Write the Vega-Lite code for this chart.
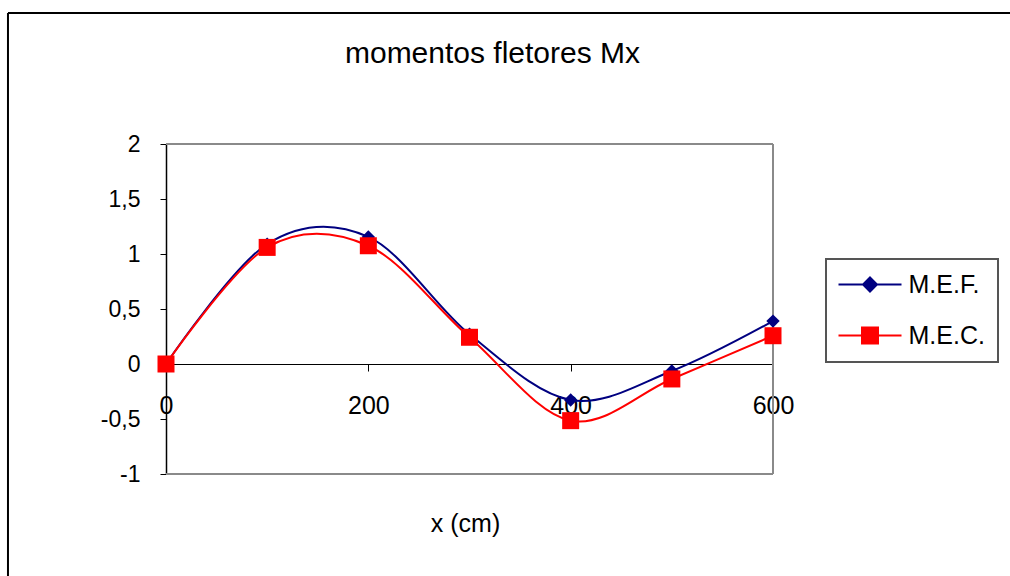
{
  "$schema": "https://vega.github.io/schema/vega-lite/v6.json",
  "width": 607,
  "height": 330,
  "autosize": {"type": "none"},
  "padding": {"left": 166, "top": 144, "right": 237, "bottom": 102},
  "background": "white",
  "config": {
    "view": {"stroke": null},
    "font": "Liberation Sans",
    "legend": {"strokeColor": "#555555", "strokeWidth": 2}
  },
  "title": {
    "text": "momentos fletores Mx",
    "font": "Liberation Sans",
    "fontSize": 30,
    "fontWeight": "normal",
    "color": "black",
    "anchor": "middle",
    "frame": "group",
    "dx": 23,
    "baseline": "alphabetic",
    "offset": -81
  },
  "data": {
    "values": [
      {"x": 0, "M": 0, "series": "M.E.F."},
      {"x": 100, "M": 1.09, "series": "M.E.F."},
      {"x": 200, "M": 1.155, "series": "M.E.F."},
      {"x": 300, "M": 0.27, "series": "M.E.F."},
      {"x": 400, "M": -0.327, "series": "M.E.F."},
      {"x": 500, "M": -0.064, "series": "M.E.F."},
      {"x": 600, "M": 0.39, "series": "M.E.F."},
      {"x": 0, "M": 0, "series": "M.E.C."},
      {"x": 100, "M": 1.06, "series": "M.E.C."},
      {"x": 200, "M": 1.075, "series": "M.E.C."},
      {"x": 300, "M": 0.243, "series": "M.E.C."},
      {"x": 400, "M": -0.515, "series": "M.E.C."},
      {"x": 500, "M": -0.136, "series": "M.E.C."},
      {"x": 600, "M": 0.257, "series": "M.E.C."}
    ]
  },
  "layer": [
    {
      "data": {"values": [{}]},
      "mark": {"type": "rule", "color": "black", "strokeWidth": 2},
      "encoding": {
        "x": {"datum": -156.2, "type": "quantitative", "scale": {"domain": [0, 600], "nice": false, "zero": false}},
        "x2": {"datum": 845},
        "y": {"datum": 3.19, "type": "quantitative", "scale": {"domain": [-1, 2], "nice": false, "zero": false}}
      }
    },
    {
      "data": {"values": [{}]},
      "mark": {"type": "rule", "color": "black", "strokeWidth": 2},
      "encoding": {
        "x": {"datum": -156.2, "type": "quantitative", "scale": {"domain": [0, 600], "nice": false, "zero": false}},
        "y": {"datum": 3.19, "type": "quantitative", "scale": {"domain": [-1, 2], "nice": false, "zero": false}},
        "y2": {"datum": -2.2}
      }
    },
    {
      "data": {"values": [{}]},
      "mark": {"type": "rule", "color": "#8a8a8a", "strokeWidth": 2},
      "encoding": {
        "x": {"datum": 0, "type": "quantitative", "scale": {"domain": [0, 600], "nice": false, "zero": false}},
        "x2": {"datum": 600},
        "y": {"datum": 2, "type": "quantitative", "scale": {"domain": [-1, 2], "nice": false, "zero": false}}
      }
    },
    {
      "data": {"values": [{}]},
      "mark": {"type": "rule", "color": "#8a8a8a", "strokeWidth": 2},
      "encoding": {
        "x": {"datum": 0, "type": "quantitative", "scale": {"domain": [0, 600], "nice": false, "zero": false}},
        "x2": {"datum": 600},
        "y": {"datum": -1, "type": "quantitative", "scale": {"domain": [-1, 2], "nice": false, "zero": false}}
      }
    },
    {
      "data": {"values": [{}]},
      "mark": {"type": "rule", "color": "#8a8a8a", "strokeWidth": 2},
      "encoding": {
        "x": {"datum": 600, "type": "quantitative", "scale": {"domain": [0, 600], "nice": false, "zero": false}},
        "y": {"datum": 2, "type": "quantitative", "scale": {"domain": [-1, 2], "nice": false, "zero": false}},
        "y2": {"datum": -1}
      }
    },
    {
      "transform": [{"filter": "datum.series === 'M.E.F.'"}],
      "mark": {"type": "line", "interpolate": "cardinal", "strokeWidth": 2},
      "encoding": {
        "x": {
          "field": "x", "type": "quantitative",
          "scale": {"domain": [0, 600], "nice": false, "zero": false},
          "axis": {
            "values": [0, 200, 400, 600],
            "offset": -110,
            "grid": false,
            "domainColor": "black", "domainWidth": 1,
            "tickColor": "black", "tickSize": 7, "tickWidth": 1,
            "labelFont": "Liberation Sans", "labelFontSize": 25, "labelColor": "black",
            "labelPadding": 22, "labelFlush": false, "labelOverlap": false,
            "title": "x (cm)",
            "titleFont": "Liberation Sans", "titleFontSize": 25, "titleFontWeight": "normal", "titleColor": "black",
            "titleX": 299, "titleY": 167, "titleBaseline": "alphabetic", "titleAlign": "center", "titleAngle": 0
          }
        },
        "y": {
          "field": "M", "type": "quantitative",
          "scale": {"domain": [-1, 2], "nice": false, "zero": false},
          "axis": {
            "values": [-1, -0.5, 0, 0.5, 1, 1.5, 2],
            "grid": false,
            "domainColor": "black", "domainWidth": 1.5,
            "tickColor": "black", "tickSize": 6, "tickWidth": 1,
            "labelFont": "Liberation Sans", "labelFontSize": 23, "labelColor": "black",
            "labelPadding": 20,
            "labelExpr": "replace(replace(format(datum.value, '~g'), '.', ','), '\u2212', '-')",
            "title": null
          }
        },
        "color": {
          "field": "series", "type": "nominal",
          "scale": {"domain": ["M.E.F.", "M.E.C."], "range": ["#000080", "#ff0000"]},
          "legend": {
            "orient": "none", "legendX": 660, "legendY": 115,
            "title": null,
            "padding": 13,
            "labelFont": "Liberation Sans", "labelFontSize": 25, "labelColor": "black",
            "symbolSize": 400,
            "symbolOffset": 18.5,
            "labelOffset": 26,
            "rowPadding": 25,
            "symbolStrokeWidth": 2,
            "encode": {
              "symbols": {
                "update": {
                  "shape": {"signal": "datum.value === 'M.E.F.' ? 'M-3.15,0H3.15M0,-0.7L0.7,0L0,0.7L-0.7,0Z' : 'M-3.15,0H3.15M-0.8,-0.8H0.8V0.8H-0.8Z'"},
                  "fill": {"signal": "datum.value === 'M.E.F.' ? '#000080' : '#ff0000'"},
                  "stroke": {"signal": "datum.value === 'M.E.F.' ? '#000080' : '#ff0000'"},
                  "strokeWidth": {"value": 2},
                  "opacity": {"value": 1}
                }
              }
            }
          }
        }
      }
    },
    {
      "transform": [{"filter": "datum.series === 'M.E.F.'"}],
      "mark": {"type": "point", "shape": "diamond", "filled": true, "size": 180, "opacity": 1},
      "encoding": {
        "x": {"field": "x", "type": "quantitative", "scale": {"domain": [0, 600], "nice": false, "zero": false}},
        "y": {"field": "M", "type": "quantitative", "scale": {"domain": [-1, 2], "nice": false, "zero": false}},
        "color": {"field": "series", "type": "nominal", "scale": {"domain": ["M.E.F.", "M.E.C."], "range": ["#000080", "#ff0000"]}, "legend": null}
      }
    },
    {
      "transform": [{"filter": "datum.series === 'M.E.C.'"}],
      "mark": {"type": "line", "interpolate": "cardinal", "strokeWidth": 2},
      "encoding": {
        "x": {"field": "x", "type": "quantitative", "scale": {"domain": [0, 600], "nice": false, "zero": false}},
        "y": {"field": "M", "type": "quantitative", "scale": {"domain": [-1, 2], "nice": false, "zero": false}},
        "color": {"field": "series", "type": "nominal", "scale": {"domain": ["M.E.F.", "M.E.C."], "range": ["#000080", "#ff0000"]}, "legend": null}
      }
    },
    {
      "transform": [{"filter": "datum.series === 'M.E.C.'"}],
      "mark": {"type": "point", "shape": "square", "filled": true, "size": 289, "opacity": 1},
      "encoding": {
        "x": {"field": "x", "type": "quantitative", "scale": {"domain": [0, 600], "nice": false, "zero": false}},
        "y": {"field": "M", "type": "quantitative", "scale": {"domain": [-1, 2], "nice": false, "zero": false}},
        "color": {"field": "series", "type": "nominal", "scale": {"domain": ["M.E.F.", "M.E.C."], "range": ["#000080", "#ff0000"]}, "legend": null}
      }
    }
  ]
}
